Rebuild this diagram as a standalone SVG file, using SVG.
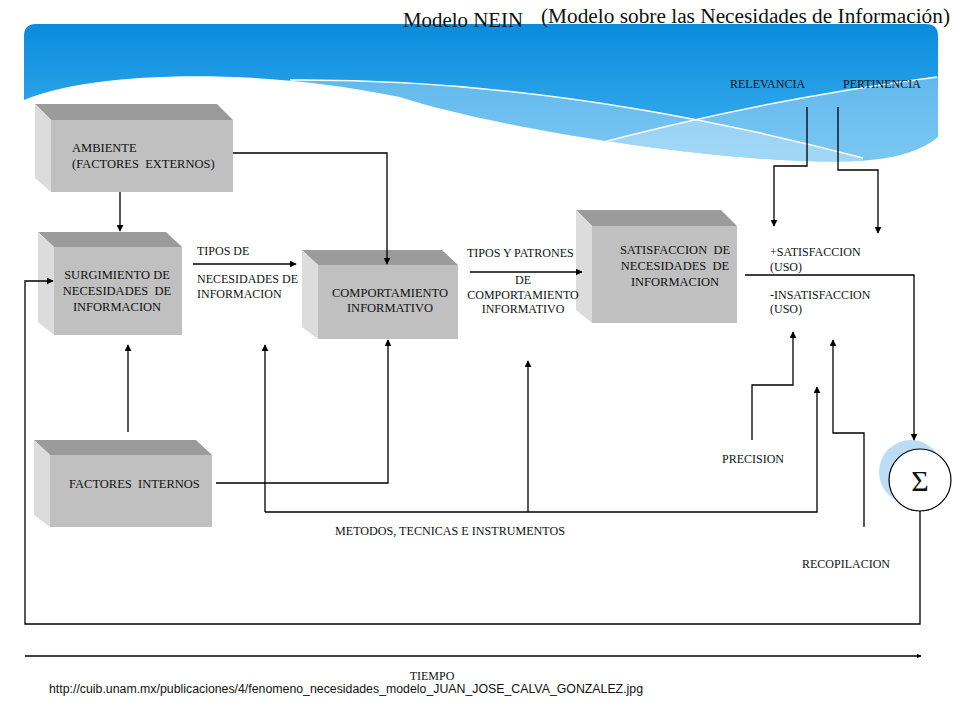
<svg xmlns="http://www.w3.org/2000/svg" width="960" height="720" viewBox="0 0 960 720">
<style>
.t{font-family:"Liberation Serif","Times New Roman",serif;font-size:12px;fill:#111}
.b{font-family:"Liberation Serif","Times New Roman",serif;font-size:12.5px;fill:#111}
.m{text-anchor:middle}
.ttl{font-family:"Liberation Serif","Times New Roman",serif;font-size:20px;fill:#111}
.top{fill:#9b9b9b}
.left{fill:#dcdcdc}
.front{fill:#c0c0c0}
.c{fill:none;stroke:#000;stroke-width:1.3}
.hl{fill:none;stroke:#fff;stroke-width:1.5}
</style>
<defs>
<marker id="ah" viewBox="0 0 10 10" refX="9" refY="5" markerWidth="7" markerHeight="7" markerUnits="userSpaceOnUse" orient="auto">
<path d="M0,0 L10,5 L0,10 Z" fill="#000"/>
</marker>
<marker id="ahs" viewBox="0 0 10 10" refX="9" refY="5" markerWidth="5" markerHeight="5" markerUnits="userSpaceOnUse" orient="auto">
<path d="M0,0 L10,5 L0,10 Z" fill="#000"/>
</marker>
<linearGradient id="bg" x1="0" y1="24" x2="0" y2="150" gradientUnits="userSpaceOnUse">
<stop offset="0" stop-color="#0a8cdc"/>
<stop offset="0.6" stop-color="#28a1e8"/>
<stop offset="1" stop-color="#3eaced"/>
</linearGradient>
<clipPath id="bc">
<path d="M24,100 L24,36 Q24,24 36,24 L926,24 Q938,24 938,36 L938,137 Q915,156 870,160 C760,170 500,130 400,97 C250,66 90,72 24,100 Z"/>
</clipPath>
</defs>

<g id="banner">
<path d="M24,100 L24,36 Q24,24 36,24 L926,24 Q938,24 938,36 L938,137 Q915,156 870,160 C760,170 500,130 400,97 C250,66 90,72 24,100 Z" fill="url(#bg)"/>
<g clip-path="url(#bc)">
<path d="M290,80 Q560,78 863,158 L863,200 L290,200 Z" fill="#fff" fill-opacity="0.3"/>
<path d="M592,145 Q760,100 937,77 L960,77 L960,200 L592,200 Z" fill="#fff" fill-opacity="0.3"/>
<path class="hl" d="M290,80 Q560,78 863,158"/>
<path class="hl" d="M592,145 Q760,100 937,77"/>
</g>
</g>

<g id="title">
<text class="ttl" x="403" y="27" textLength="120" lengthAdjust="spacingAndGlyphs">Modelo NEIN</text>
<text class="ttl" x="541" y="23" textLength="409" lengthAdjust="spacingAndGlyphs">(Modelo sobre las Necesidades de Información)</text>
</g>

<g id="ambiente">
<polygon class="top" points="35,104 217,104 233,120 51,120"/>
<polygon class="left" points="35,104 51,120 51,192 35,178"/>
<rect class="front" x="51" y="120" width="182" height="72"/>
<text class="b" x="72" y="152">AMBIENTE</text>
<text class="b" x="72" y="168" xml:space="preserve">(FACTORES  EXTERNOS)</text>
</g>

<g id="surgimiento">
<polygon class="top" points="38,232 166,232 182,247 54,247"/>
<polygon class="left" points="38,232 54,247 54,335 38,322"/>
<rect class="front" x="54" y="247" width="128" height="88"/>
<text class="b m" x="117" y="279">SURGIMIENTO DE</text>
<text class="b m" x="117" y="295" xml:space="preserve">NECESIDADES  DE</text>
<text class="b m" x="117" y="311">INFORMACION</text>
</g>

<g id="comportamiento">
<polygon class="top" points="302,250 442,250 458,265 318,265"/>
<polygon class="left" points="302,250 318,265 318,339 302,327"/>
<rect class="front" x="318" y="265" width="140" height="74"/>
<text class="b m" x="390" y="297">COMPORTAMIENTO</text>
<text class="b m" x="390" y="312">INFORMATIVO</text>
</g>

<g id="satisfaccion">
<polygon class="top" points="576,210 721,210 737,226 592,226"/>
<polygon class="left" points="576,210 592,226 592,323 576,310"/>
<rect class="front" x="592" y="226" width="145" height="97"/>
<text class="b m" x="675" y="254" xml:space="preserve">SATISFACCION  DE</text>
<text class="b m" x="675" y="270" xml:space="preserve">NECESIDADES  DE</text>
<text class="b m" x="675" y="286">INFORMACION</text>
</g>

<g id="factores-internos">
<polygon class="top" points="34,440 196,440 212,455 50,455"/>
<polygon class="left" points="34,440 50,455 50,527 34,515"/>
<rect class="front" x="50" y="455" width="162" height="72"/>
<text class="b" x="69" y="488" xml:space="preserve">FACTORES  INTERNOS</text>
</g>

<g id="sigma">
<circle cx="911" cy="472" r="32" fill="#bcdcf3"/>
<circle cx="920" cy="480" r="31" fill="#fff" stroke="#000" stroke-width="1.2"/>
<text x="920" y="491" text-anchor="middle" font-family="Liberation Serif, Times New Roman, serif" font-size="30" fill="#111">Σ</text>
</g>

<g id="connectors">
<path class="c" d="M120,192 L120,231" marker-end="url(#ah)"/>
<path class="c" d="M233,153 L387,153 L387,264" marker-end="url(#ah)"/>
<path class="c" d="M193,264 L296,264" marker-end="url(#ah)"/>
<path class="c" d="M128,432 L128,345" marker-end="url(#ah)"/>
<path class="c" d="M216,483 L388,483 L388,340" marker-end="url(#ah)"/>
<path class="c" d="M265,512 L265,345" marker-end="url(#ah)"/>
<path class="c" d="M265,512 L817,512 L817,387" marker-end="url(#ah)"/>
<path class="c" d="M528,512 L528,361" marker-end="url(#ah)"/>
<path class="c" d="M470,272 L582,272" marker-end="url(#ah)"/>
<path class="c" d="M745,275 L914,275 L914,440" marker-end="url(#ah)"/>
<path class="c" d="M807,107 L807,166 L774,166 L774,226" marker-end="url(#ah)"/>
<path class="c" d="M838,107 L838,170 L878,170 L878,233" marker-end="url(#ah)"/>
<path class="c" d="M752,440 L752,385 L793,385 L793,332" marker-end="url(#ah)"/>
<path class="c" d="M864,527 L864,433 L833,433 L833,340" marker-end="url(#ah)"/>
<path class="c" d="M920,511 L920,624 L25,624 L25,281 L53,281" marker-end="url(#ah)"/>
<path class="c" d="M25,656 L921,656" marker-end="url(#ahs)"/>
</g>

<g id="labels">
<text class="t" x="197" y="255">TIPOS DE</text>
<text class="t" x="197" y="283">NECESIDADES DE</text>
<text class="t" x="197" y="298">INFORMACION</text>
<text class="t" x="467" y="257">TIPOS Y PATRONES</text>
<text class="t m" x="523" y="284">DE</text>
<text class="t m" x="523" y="299">COMPORTAMIENTO</text>
<text class="t m" x="523" y="313">INFORMATIVO</text>
<text class="t" x="730" y="88">RELEVANCIA</text>
<text class="t" x="843" y="88">PERTINENCIA</text>
<text class="t" x="770" y="256">+SATISFACCION</text>
<text class="t" x="770" y="271">(USO)</text>
<text class="t" x="770" y="299">-INSATISFACCION</text>
<text class="t" x="770" y="313">(USO)</text>
<text class="t" x="722" y="463">PRECISION</text>
<text class="t" x="802" y="568">RECOPILACION</text>
<text class="t" x="335" y="535" textLength="230" lengthAdjust="spacingAndGlyphs">METODOS, TECNICAS E INSTRUMENTOS</text>
<text class="t m" x="432" y="680">TIEMPO</text>
<text x="49" y="693" font-family="Liberation Sans, Arial, sans-serif" font-size="12" fill="#111" textLength="594" lengthAdjust="spacingAndGlyphs">http://cuib.unam.mx/publicaciones/4/fenomeno_necesidades_modelo_JUAN_JOSE_CALVA_GONZALEZ.jpg</text>
</g>
</svg>
